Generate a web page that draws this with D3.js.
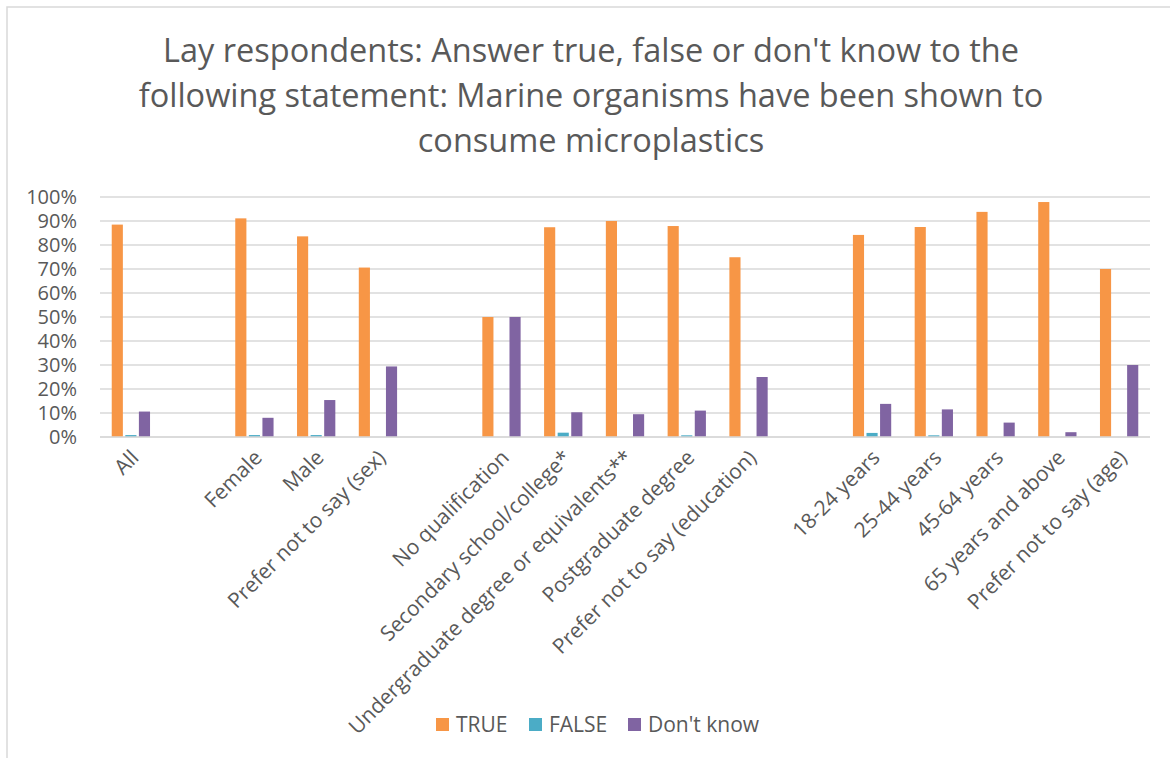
<!DOCTYPE html>
<html>
<head>
<meta charset="utf-8">
<script src="https://cdn.jsdelivr.net/npm/d3@7"></script>
<style>
  body { margin: 0; background: #fff; }
  text { font-family: "Open Sans", sans-serif; fill: #595959; }
</style>
</head>
<body>
<div id="canvas"></div>
<script>
// Categories, with empty slots used as gaps between the groups.
const categories = [
    "All", "",
    "Female", "Male", "Prefer not to say (sex)", "",
    "No qualification", "Secondary school/college*", "Undergraduate degree or equivalents**",
    "Postgraduate degree", "Prefer not to say (education)", "",
    "18-24 years", "25-44 years", "45-64 years", "65 years and above", "Prefer not to say (age)"
];
// Series values, in percent (null for the gap slots).
const trueValues  = [88.5, null, 91.1, 83.6, 70.6, null, 50.0, 87.4, 90.0, 87.9, 74.9, null, 84.2, 87.5, 93.8, 97.9, 70.0];
const falseValues = [0.8,  null, 0.8,  0.8,  0,    null, 0,    1.8,  0,    0.7,  0,    null, 1.7,  0.7,  0,    0,    0];
const dkValues    = [10.6, null, 8.0,  15.4, 29.4, null, 50.0, 10.3, 9.5,  11.0, 25.0, null, 13.8, 11.5, 6.0,  2.0,  30.0];
const seriesNames = ["TRUE", "FALSE", "Don't know"];
const colors = ["#F79646", "#4BACC6", "#8064A2"];
const yTicks = [0, 10, 20, 30, 40, 50, 60, 70, 80, 90, 100];
const titleLines = [
    "Lay respondents: Answer true, false or don't know to the",
    "following statement: Marine organisms have been shown to",
    "consume microplastics"
];

const w = 1170, h = 758;
const plot = { left: 100, right: 1150, top: 197, bottom: 437 };

const svg = d3.select("#canvas")
    .append("svg")
    .attr("width", w)
    .attr("height", h);

// Chart frame.
svg.append("rect")
    .attr("x", 7).attr("y", 7)
    .attr("width", w + 20).attr("height", h + 20)
    .attr("fill", "none")
    .attr("stroke", "#d9d9d9")
    .attr("stroke-width", 1.5);

// Title.
svg.append("g").selectAll("text")
    .data(titleLines)
    .join("text")
    .attr("x", 591)
    .attr("y", (d, i) => 62 + i * 45)
    .attr("text-anchor", "middle")
    .attr("font-size", 32.5)
    .text(d => d);

// Scales.
const slots = categories.map((d, i) => i);
const x0 = d3.scaleBand()
    .domain(slots)
    .range([plot.left, plot.right])
    .paddingInner(0.38)
    .paddingOuter(0.19);
const x1 = d3.scaleBand()
    .domain(d3.range(seriesNames.length))
    .range([0, x0.bandwidth()])
    .paddingInner(0.18);
const y = d3.scaleLinear()
    .domain([0, 100])
    .range([plot.bottom, plot.top]);

// Gridlines.
svg.append("g")
    .selectAll("line")
    .data(yTicks)
    .join("line")
    .attr("x1", plot.left).attr("x2", plot.right)
    .attr("y1", d => y(d)).attr("y2", d => y(d))
    .attr("stroke", "#d9d9d9")
    .attr("stroke-width", 1.5);

// Y axis labels.
const yAxis = svg.append("g")
    .attr("transform", `translate(${plot.left},0)`)
    .call(d3.axisLeft(y).tickValues(yTicks).tickSize(0).tickPadding(23).tickFormat(d => d + "%"));
yAxis.select(".domain").remove();
yAxis.selectAll("text")
    .attr("font-size", 20)
    .attr("font-family", null)
    .attr("fill", "#595959");

// Bars.
const seriesData = [trueValues, falseValues, dkValues];
seriesData.forEach((vals, s) => {
    svg.append("g")
        .selectAll("rect")
        .data(vals.map((v, i) => ({ i, v })).filter(d => d.v !== null && d.v > 0))
        .join("rect")
        .attr("x", d => x0(d.i) + x1(s))
        .attr("y", d => y(d.v))
        .attr("width", x1.bandwidth())
        .attr("height", d => y(0) - y(d.v))
        .attr("fill", colors[s]);
});

// X axis line.
svg.append("line")
    .attr("x1", plot.left).attr("x2", plot.right)
    .attr("y1", plot.bottom).attr("y2", plot.bottom)
    .attr("stroke", "#d9d9d9")
    .attr("stroke-width", 1.5);

// Category labels, rotated.
const xAxis = svg.append("g")
    .attr("transform", `translate(0,${plot.bottom})`)
    .call(d3.axisBottom(x0).tickSize(0).tickFormat(i => categories[i]));
xAxis.select(".domain").remove();
xAxis.selectAll("text")
    .attr("font-size", 21)
    .attr("font-family", null)
    .attr("fill", "#595959")
    .attr("text-anchor", "end")
    .attr("dy", null)
    .attr("y", 0)
    .attr("transform", "translate(9,22) rotate(-45)");

// Legend.
const legendX = [436, 529, 628];
const legend = svg.append("g")
    .selectAll("g")
    .data(seriesNames)
    .join("g")
    .attr("transform", (d, i) => `translate(${legendX[i]},718)`);
legend.append("rect")
    .attr("width", 13).attr("height", 13)
    .attr("fill", (d, i) => colors[i]);
legend.append("text")
    .attr("x", 20).attr("y", 14)
    .attr("font-size", 21)
    .text(d => d);
</script>
</body>
</html>
